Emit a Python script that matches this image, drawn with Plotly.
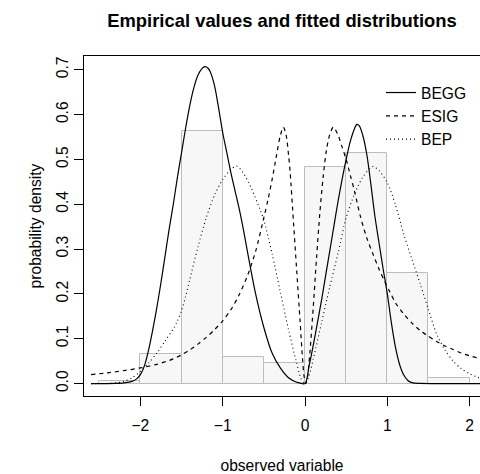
import plotly.graph_objects as go

# ---- data ----
bin_mids = [-2.25, -1.75, -1.25, -0.75, -0.25, 0.25, 0.75, 1.25, 1.75]
bin_dens = [0.006, 0.0665, 0.5625, 0.059, 0.0466, 0.482, 0.514, 0.247, 0.0126]
bin_width = 0.5

begg_x = [-2.6, -2.4, -2.3, -2.2, -2.1, -2.05, -2.0, -1.95, -1.9, -1.85, -1.8, -1.75, -1.7,
          -1.65, -1.6, -1.55, -1.5, -1.45, -1.4, -1.35, -1.3, -1.25, -1.215, -1.18, -1.15,
          -1.1, -1.05, -1.0, -0.95, -0.9, -0.85, -0.8, -0.75, -0.7, -0.6, -0.5, -0.4, -0.3,
          -0.2, -0.1, 0.0, 0.05, 0.1, 0.15, 0.2, 0.25, 0.3, 0.35, 0.4, 0.45, 0.5, 0.55, 0.6,
          0.63, 0.66, 0.7, 0.75, 0.8, 0.85, 0.9, 0.95, 1.0, 1.05, 1.1, 1.15, 1.2, 1.25, 1.3,
          1.4, 1.6, 2.2]
begg_y = [0.0, 0.0001, 0.0004, 0.0015, 0.005, 0.01, 0.02, 0.04, 0.075, 0.12, 0.17, 0.225, 0.285,
          0.345, 0.40, 0.46, 0.515, 0.57, 0.62, 0.66, 0.688, 0.703, 0.707, 0.704, 0.695,
          0.665, 0.615, 0.56, 0.515, 0.47, 0.43, 0.39, 0.345, 0.295, 0.20, 0.125, 0.068, 0.035,
          0.013, 0.003, 0.0, 0.04, 0.085, 0.135, 0.185, 0.24, 0.295, 0.35, 0.405, 0.455, 0.50, 0.54, 0.568,
          0.578, 0.575, 0.555, 0.512, 0.445, 0.372, 0.313, 0.255, 0.20, 0.135, 0.08, 0.042, 0.019, 0.007, 0.002,
          0.0003, 0.0, 0.0]

esig_x = [-2.6, -2.4, -2.2, -2.0, -1.8, -1.6, -1.5, -1.4, -1.3, -1.2, -1.1, -1.0, -0.9, -0.8,
          -0.7, -0.6, -0.5, -0.45, -0.4, -0.35, -0.3, -0.263, -0.23, -0.2, -0.18, -0.14, -0.1,
          -0.06, -0.03, -0.01, 0.01, 0.03, 0.06, 0.1, 0.14, 0.18, 0.22, 0.26, 0.3, 0.344, 0.4,
          0.45, 0.5, 0.55, 0.6, 0.67, 0.75, 0.83, 0.9, 0.97, 1.03, 1.1, 1.2, 1.3, 1.4, 1.48,
          1.6, 1.7, 1.8, 1.9, 2.0, 2.1, 2.2]
esig_y = [0.020, 0.024, 0.029, 0.035, 0.043, 0.055, 0.064, 0.075, 0.088, 0.103, 0.12, 0.14, 0.165, 0.198,
          0.24, 0.295, 0.37, 0.41, 0.455, 0.505, 0.553, 0.572, 0.555, 0.51, 0.47, 0.36, 0.25,
          0.14, 0.055, 0.015, 0.0, 0.015, 0.07, 0.17, 0.28, 0.38, 0.46, 0.52, 0.555, 0.572, 0.555,
          0.528, 0.50, 0.465, 0.43, 0.375, 0.325, 0.287, 0.255, 0.227, 0.205, 0.18, 0.155, 0.135, 0.118, 0.108,
          0.094, 0.084, 0.076, 0.068, 0.062, 0.057, 0.053]

bep_x = [-2.6, -2.4, -2.3, -2.2, -2.1, -2.0, -1.9, -1.8, -1.7, -1.6, -1.55, -1.5, -1.45, -1.4, -1.3,
         -1.2, -1.1, -1.0, -0.9, -0.83, -0.75, -0.65, -0.55, -0.5, -0.4, -0.3, -0.2, -0.1, -0.05,
         0.0, 0.05, 0.1, 0.2, 0.3, 0.4, 0.5, 0.6, 0.7, 0.8, 0.83, 0.9, 1.0, 1.1, 1.2, 1.3, 1.4, 1.5,
         1.6, 1.7, 1.8, 1.9, 2.0, 2.1, 2.2]
bep_y = [0.0, 0.0003, 0.0015, 0.005, 0.013, 0.027, 0.046, 0.068, 0.095, 0.122, 0.14, 0.163, 0.195, 0.232, 0.305,
         0.37, 0.42, 0.455, 0.478, 0.485, 0.47, 0.435, 0.39, 0.365, 0.29, 0.205, 0.12, 0.045, 0.012,
         0.0, 0.018, 0.055, 0.135, 0.215, 0.29, 0.37, 0.422, 0.46, 0.482, 0.484, 0.475, 0.448, 0.398, 0.333,
         0.277, 0.222, 0.165, 0.11, 0.075, 0.05, 0.033, 0.022, 0.014, 0.008]

x_ticks = [-2, -1, 0, 1, 2]
y_ticks = [0.0, 0.1, 0.2, 0.3, 0.4, 0.5, 0.6, 0.7]

FONT = "Liberation Sans, Arial, Helvetica, sans-serif"

fig = go.Figure()
fig.add_trace(go.Bar(x=bin_mids, y=bin_dens, width=bin_width, showlegend=False,
                     marker=dict(color="#f7f7f7", line=dict(color="#bdbdbd", width=1))))
fig.add_trace(go.Scatter(x=begg_x, y=begg_y, mode="lines", name="BEGG",
                         line=dict(color="black", width=1.2, shape="spline", smoothing=0.8)))
fig.add_trace(go.Scatter(x=esig_x, y=esig_y, mode="lines", name="ESIG",
                         line=dict(color="black", width=1.2, dash="4px,4px", shape="spline", smoothing=0.8)))
fig.add_trace(go.Scatter(x=bep_x, y=bep_y, mode="lines", name="BEP",
                         line=dict(color="black", width=1.1, dash="1px,3px", shape="spline", smoothing=0.8)))

fig.update_layout(
    width=480, height=474,
    margin=dict(l=84, r=0, t=56, b=76),
    paper_bgcolor="white", plot_bgcolor="white",
    font=dict(family=FONT, size=15.6, color="black"),
    bargap=0,
    title=dict(text="<b>Empirical values and fitted distributions</b>",
               x=282 / 480, xanchor="center", xref="container",
               y=1 - 21 / 474, yanchor="middle", font=dict(size=18.4, color="black")),
    legend=dict(x=(381 - 84) / 396, xanchor="left", y=1 - (76 - 56) / 342, yanchor="top",
                bgcolor="rgba(0,0,0,0)", borderwidth=0, font=dict(size=15.6),
                tracegroupgap=0),
    showlegend=True,
)
fig.update_xaxes(range=[-2.685, 2.126], tickvals=x_ticks,
                 ticktext=[("\u2212" if v < 0 else "") + str(abs(v)) for v in x_ticks],
                 showgrid=False, zeroline=False, showline=True, mirror=True, linecolor="black", linewidth=1,
                 ticks="outside", ticklen=9, tickwidth=1, tickcolor="black", ticklabelstandoff=6,
                 title=dict(text="observed variable", standoff=29, font=dict(size=15.6)))
fig.update_yaxes(range=[-0.0277, 0.7306], tickvals=y_ticks, ticktext=["%.1f" % v for v in y_ticks],
                 tickangle=-90, showgrid=False, zeroline=False, showline=True, mirror=False,
                 linecolor="black", linewidth=1, ticks="outside", ticklen=9, tickwidth=1, tickcolor="black",
                 ticklabelstandoff=0,
                 title=dict(text="probability density", standoff=8, font=dict(size=15.6)))

fig.write_html("out.html")
